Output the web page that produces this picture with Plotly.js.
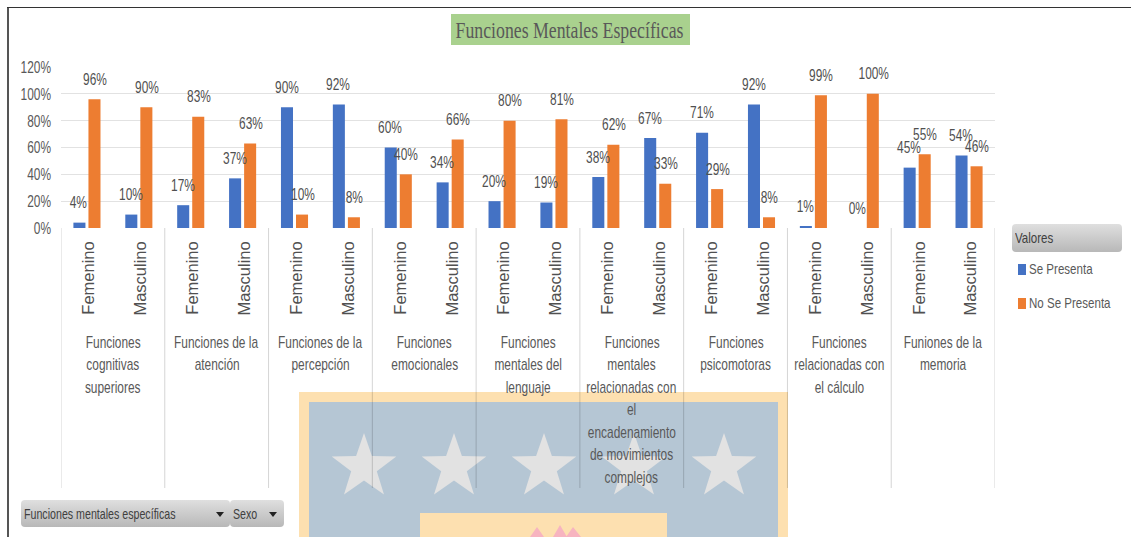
<!DOCTYPE html>
<html>
<head>
<meta charset="utf-8">
<script src="https://cdn.plot.ly/plotly-3.0.1.min.js"></script>
<style>
  body { margin: 0; background: #fff; }
  #frame { position: absolute; left: 0; top: 0; width: 1131px; height: 537px; overflow: hidden; font-family: "Liberation Sans", sans-serif; color: #595959; }
  #frame > * { position: absolute; }
  .button { background: linear-gradient(#dfdfdf, #b8b8b8); border-radius: 4px; color: #404040; font-size: 15px; box-sizing: border-box; padding-left: 3px; white-space: nowrap; }
  .arrow { position: absolute; top: 12px; width: 0; height: 0; border-left: 4px solid transparent; border-right: 4px solid transparent; border-top: 5px solid #222; }
  .key { font-size: 15px; white-space: nowrap; }
  .key i { display: inline-block; width: 8px; height: 11px; margin-right: 3px; vertical-align: -1px; }
  .narrow { display: inline-block; transform: scaleX(0.77); transform-origin: left center; }
  .narrower { display: inline-block; transform: scaleX(0.71); transform-origin: left center; }
</style>
</head>
<body>
<div id="frame">
  <!-- watermark behind the chart -->
  <svg id="mark" width="1131" height="537" style="left:0;top:0">
    <rect x="299" y="392" width="489" height="145" fill="#fde0b0"/>
    <rect x="309" y="402" width="469" height="135" fill="#b5c6d4"/>
    <g id="stars" fill="#e2e2e2"></g>
    <rect x="420" y="513" width="247" height="24" fill="#fde0b0"/>
    <path d="M530 537 L537 527 L544 537 Z M553 537 L560 525 L567 537 Z M566 537 L573 527 L581 537 Z" fill="#f7b4c0"/>
  </svg>
  <div id="chart" style="left:0;top:0;width:1131px;height:537px"></div>
  <div style="left:7px;top:8px;width:2px;height:529px;background:#555"></div>
  <div style="left:7px;top:7px;width:1124px;height:1px;background:#333"></div>

  <div class="button" style="left:1012px;top:224px;width:110px;height:28px;line-height:28px"><span class="narrow">Valores</span></div>
  <div class="key" style="left:1018px;top:260px"><i style="background:#4472c4"></i><span class="narrow">Se Presenta</span></div>
  <div class="key" style="left:1018px;top:294px"><i style="background:#ed7d31"></i><span class="narrow">No Se Presenta</span></div>

  <div class="button" style="left:21px;top:500px;width:209px;height:27px;line-height:28px"><span class="narrower">Funciones mentales específicas</span><span class="arrow" style="left:195px"></span></div>
  <div class="button" style="left:230px;top:500px;width:54px;height:27px;line-height:28px"><span class="narrower">Sexo</span><span class="arrow" style="left:39px"></span></div>
</div>
<script>
// Data
var groups = [
  "Funciones<br>cognitivas<br>superiores",
  "Funciones de la<br>atención",
  "Funciones de la<br>percepción",
  "Funciones<br>emocionales",
  "Funciones<br>mentales del<br>lenguaje",
  "Funciones<br>mentales<br>relacionadas con<br>el<br>encadenamiento<br>de movimientos<br>complejos",
  "Funciones<br>psicomotoras",
  "Funciones<br>relacionadas con<br>el cálculo",
  "Funiones de la<br>memoria"
];
var sexes = ["Femenino", "Masculino"];
var sePresenta = [4, 10, 17, 37, 90, 92, 60, 34, 20, 19, 38, 67, 71, 92, 1, 0, 45, 54];
var noSePresenta = [96, 90, 83, 63, 10, 8, 40, 66, 80, 81, 62, 33, 29, 8, 99, 100, 55, 46];
var yTicks = [0, 20, 40, 60, 80, 100, 120];

var barFont = "Liberation Sans, sans-serif";
var gray = "#595959";

// stars of the watermark
var starPath = "";
[364, 454, 544, 634, 724].forEach(cx => {
  var pts = [];
  for (var k = 0; k < 10; k++) {
    var r = k % 2 ? 13.5 : 34;
    var a = -Math.PI / 2 + k * Math.PI / 5;
    pts.push((cx + r * Math.cos(a)).toFixed(1) + " " + (467 + r * Math.sin(a)).toFixed(1));
  }
  starPath += "M" + pts.join("L") + "Z";
});
document.getElementById("stars").innerHTML = '<path d="' + starPath + '"/>';

// one x position per bar pair
var xPos = sePresenta.map((v, i) => i);
var xLabels = sePresenta.map((v, i) => sexes[i % 2]);

var trace1 = { x: xPos, y: sePresenta, type: "bar", name: "Se Presenta", marker: { color: "#4472c4" } };
var trace2 = { x: xPos, y: noSePresenta, type: "bar", name: "No Se Presenta", marker: { color: "#ed7d31" } };

// value labels sit well above the bars, so they are annotations
var annotations = [];
function addLabels(values, shift) {
  values.forEach((v, i) => {
    annotations.push({
      x: i, y: v, xref: "x", yref: "y", text: v + "%", showarrow: false,
      xshift: shift, yshift: 20, yanchor: "middle",
      font: { family: barFont, size: 17, color: "#505050" }
    });
  });
}
addLabels(sePresenta, -8);
addLabels(noSePresenta, 8);

// group captions, one annotation per line to hold the line spacing
groups.forEach((g, i) => {
  g.split("<br>").forEach((line, j) => {
    annotations.push({
      x: i * 2 + 0.5, y: 0, xref: "x", yref: "paper", text: line, showarrow: false,
      yshift: -(114 + j * 22.5), yanchor: "middle",
      font: { family: barFont, size: 17, color: gray }
    });
  });
});

// separators between the groups
var shapes = [];
for (var i = 0; i <= groups.length; i++) {
  shapes.push({
    type: "line", xref: "x", yref: "paper", x0: i * 2 - 0.5, x1: i * 2 - 0.5, y0: 0, y1: -260 / 161,
    line: { color: "rgba(0,0,0,0.17)", width: 1 }
  });
}
// green box behind the title
shapes.push({
  type: "rect", xref: "paper", yref: "paper", x0: (451 - 61) / 934, x1: (690 - 61) / 934,
  y0: (228 - 45) / 161, y1: (228 - 14) / 161, fillcolor: "#a9d18e", line: { width: 0 }, layer: "below"
});

var layout = {
  width: 1131,
  height: 537,
  margin: { l: 61, r: 136, t: 67, b: 309 },
  paper_bgcolor: "rgba(0,0,0,0)",
  plot_bgcolor: "rgba(0,0,0,0)",
  showlegend: false,
  barmode: "group",
  bargap: 0.42,
  bargroupgap: 0.2,
  title: {
    text: "Funciones Mentales Específicas",
    font: { family: "Liberation Serif, serif", size: 24, color: gray },
    x: 569.5 / 1131, xanchor: "center", y: 1 - 29.5 / 537, yanchor: "middle"
  },
  xaxis: {
    range: [-0.5, 17.5],
    tickmode: "array",
    tickvals: xPos,
    ticktext: xLabels,
    tickangle: -90,
    ticks: "",
    ticklabelstandoff: 9,
    tickfont: { family: barFont, size: 16.5, color: "#505050" },
    showgrid: false,
    zeroline: false
  },
  yaxis: {
    range: [0, 120],
    tickmode: "array",
    tickvals: yTicks,
    ticktext: yTicks.map(t => t + "%"),
    tickfont: { family: barFont, size: 17, color: gray },
    gridcolor: "#e2e2e2",
    gridwidth: 1,
    zeroline: false,
    ticks: "",
    ticklabelstandoff: 9
  },
  shapes: shapes,
  annotations: annotations
};

// the original text is a condensed face, none is installed so squeeze it
function squeeze(selector, ratio) {
  document.querySelectorAll("#chart " + selector).forEach(t => {
    t.setAttribute("textLength", (t.getComputedTextLength() * ratio).toFixed(1));
    t.setAttribute("lengthAdjust", "spacingAndGlyphs");
  });
}

Plotly.newPlot("chart", [trace1, trace2], layout, { displayModeBar: false, responsive: false }).then(() => {
  squeeze(".annotation-text", 0.7);
  squeeze(".ytick text", 0.7);
  squeeze(".gtitle", 0.74);
  // rotated labels sit a bit right of the bar pair in the original
  document.querySelectorAll("#chart .xtick text").forEach(t => {
    t.setAttribute("transform", "translate(2,0) " + (t.getAttribute("transform") || ""));
  });
});
</script>
</body>
</html>
